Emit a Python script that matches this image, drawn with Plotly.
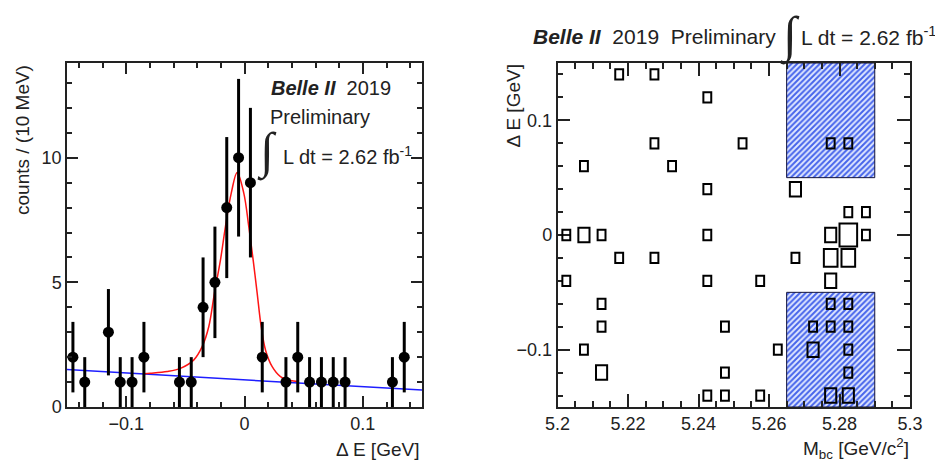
import numpy as np
import plotly.graph_objects as go

# ---------------- data: left panel (Delta E histogram) ----------------
de_bin_centers = [-0.145, -0.135, -0.115, -0.105, -0.095, -0.085, -0.055, -0.045,
                  -0.035, -0.025, -0.015, -0.005, 0.005, 0.015, 0.035, 0.045,
                  0.055, 0.065, 0.075, 0.085, 0.125, 0.135]
de_counts = [2, 1, 3, 1, 1, 2, 1, 1, 4, 5, 8, 10, 9, 2, 1, 2, 1, 1, 1, 1, 1, 2]

# fit curve (total)
fit_x = [-0.085, -0.0795, -0.0653, -0.0541, -0.0428, -0.0358, -0.0302, -0.0254,
         -0.0203, -0.0161, -0.0112, -0.0062, -0.0006, 0.0036, 0.0073, 0.0107,
         0.0141, 0.0178, 0.0234, 0.0304, 0.0389, 0.045]
fit_y = [1.33, 1.35, 1.42, 1.55, 1.89, 2.42, 3.22, 4.57, 5.90, 7.24, 8.58, 9.41,
         8.58, 7.24, 5.90, 4.57, 3.22, 2.28, 1.62, 1.22, 1.06, 1.02]

# background line
bkg_x = [-0.15, 0.15]
bkg_y = [1.50, 0.68]

# ---------------- data: right panel (Mbc vs Delta E boxes) ----------------
box_mbc = [5.2175, 5.2275, 5.2425, 5.2275, 5.2525, 5.2775, 5.2825, 5.2075, 5.2325,
           5.2425, 5.2675, 5.2825, 5.2875, 5.2025, 5.2075, 5.2125, 5.2425, 5.2775,
           5.2825, 5.2875, 5.2175, 5.2275, 5.2675, 5.2775, 5.2825, 5.2025, 5.2425,
           5.2575, 5.2775, 5.2125, 5.2775, 5.2825, 5.2125, 5.2475, 5.2725, 5.2775,
           5.2825, 5.2075, 5.2625, 5.2725, 5.2825, 5.2125, 5.2475, 5.2825, 5.2425,
           5.2475, 5.2575, 5.2775, 5.2825]
box_de = [0.14, 0.14, 0.12, 0.08, 0.08, 0.08, 0.08, 0.06, 0.06,
          0.04, 0.04, 0.02, 0.02, 0.0, 0.0, 0.0, 0.0, 0.0,
          0.0, 0.0, -0.02, -0.02, -0.02, -0.02, -0.02, -0.04, -0.04,
          -0.04, -0.04, -0.06, -0.06, -0.06, -0.08, -0.08, -0.08, -0.08,
          -0.08, -0.10, -0.10, -0.10, -0.10, -0.12, -0.12, -0.12, -0.14,
          -0.14, -0.14, -0.14, -0.14]
box_counts = [1, 1, 1, 1, 1, 1, 1, 1, 1,
              1, 2, 1, 1, 1, 2, 1, 1, 2,
              5, 1, 1, 1, 1, 3, 3, 1, 1,
              1, 2, 1, 1, 1, 1, 1, 1, 1,
              1, 1, 1, 2, 1, 2, 1, 1, 1,
              1, 1, 2, 2]
mbc_bin_width = 0.005
de_bin_width = 0.02

# sideband regions (hatched)
sb_mbc = [5.265, 5.29]
sb_upper_de = [0.05, 0.15]
sb_lower_de = [-0.15, -0.05]

FONT = "Liberation Sans"
W, H = 935, 462

def px(x):
    return x / W

def py(y):
    return 1 - y / H

fig = go.Figure()

# --- left panel ---
fig.add_trace(go.Scatter(x=bkg_x, y=bkg_y, mode="lines",
                         line=dict(color="rgb(30,30,255)", width=1.5),
                         xaxis="x", yaxis="y", showlegend=False, hoverinfo="skip"))
fig.add_trace(go.Scatter(x=fit_x, y=fit_y, mode="lines", line_shape="spline",
                         line=dict(color="rgb(255,20,20)", width=1.5),
                         xaxis="x", yaxis="y", showlegend=False))
fig.add_trace(go.Scatter(x=de_bin_centers, y=de_counts, mode="markers",
                         marker=dict(color="black", size=11, symbol="circle"),
                         error_y=dict(type="data", array=list(np.sqrt(de_counts)),
                                      color="black", thickness=3, width=0),
                         xaxis="x", yaxis="y", showlegend=False))

# --- right panel: hatched sideband regions ---
for lo, hi in (sb_upper_de, sb_lower_de):
    fig.add_trace(go.Scatter(
        x=[sb_mbc[0], sb_mbc[1], sb_mbc[1], sb_mbc[0], sb_mbc[0]],
        y=[lo, lo, hi, hi, lo], mode="lines", fill="toself",
        fillcolor="rgb(70,100,235)",
        fillpattern=dict(shape="/", bgcolor="rgb(70,100,235)", fgcolor="rgb(225,232,255)",
                         size=4, solidity=0.5),
        line=dict(color="rgb(20,20,60)", width=1),
        xaxis="x2", yaxis="y2", showlegend=False, hoverinfo="skip"))

# empty traces to attach the mirror-tick axes
fig.add_trace(go.Scatter(x=[], y=[], xaxis="x3", yaxis="y3", showlegend=False))
fig.add_trace(go.Scatter(x=[], y=[], xaxis="x4", yaxis="y4", showlegend=False))

cmax = max(box_counts)
shapes = []
for m, d, c in zip(box_mbc, box_de, box_counts):
    f = np.sqrt(c / cmax)
    hw = 0.5 * mbc_bin_width * f
    hh = 0.5 * de_bin_width * f
    shapes.append(dict(type="rect", xref="x2", yref="y2",
                       x0=m - hw, x1=m + hw, y0=d - hh, y1=d + hh,
                       line=dict(color="black", width=2), fillcolor="rgba(0,0,0,0)",
                       layer="above"))

TC = "#222"
axis_common = dict(showline=True, linecolor=TC, linewidth=1.5, mirror=True,
                   ticks="inside", tickcolor=TC, tickwidth=1.5, showgrid=False,
                   zeroline=False, automargin=False,
                   tickfont=dict(family=FONT, size=18, color=TC))

def minor(dt, t0, ln):
    return dict(dtick=dt, tick0=t0, ticklen=ln, ticks="inside", tickcolor=TC,
                tickwidth=1.5, showgrid=False)

mirror_common = dict(showline=False, ticks="inside", tickcolor=TC, tickwidth=1.5,
                     showgrid=False, zeroline=False, automargin=False,
                     showticklabels=False)

xl_dom = [px(67), px(422)]
xr_dom = [px(557.5), px(910)]
y_dom = [py(407), py(63)]

fig.update_layout(
    template="none",
    width=W, height=H, margin=dict(l=0, r=0, t=0, b=0, autoexpand=False),
    paper_bgcolor="white", plot_bgcolor="rgba(0,0,0,0)",
    xaxis=dict(domain=xl_dom, range=[-0.15, 0.15], tick0=0, dtick=0.1,
               ticklen=11, minor=minor(0.02, 0, 5), anchor="y", **axis_common),
    yaxis=dict(domain=y_dom, range=[0, 13.8], tick0=0, dtick=5,
               ticklen=11, minor=minor(1, 0, 5), anchor="x", **axis_common),
    xaxis2=dict(domain=xr_dom, range=[5.2, 5.3], tick0=5.2, dtick=0.02,
                ticklen=13, minor=minor(0.005, 5.2, 6), anchor="y2", **axis_common),
    yaxis2=dict(domain=y_dom, range=[-0.15, 0.15], tick0=0, dtick=0.1,
                ticklen=13, minor=minor(0.02, 0, 6), anchor="x2", **axis_common),
    # mirror ticks (top and right sides)
    xaxis3=dict(domain=xl_dom, range=[-0.15, 0.15], tick0=0, dtick=0.1, ticklen=11,
                minor=minor(0.02, 0, 5), side="top", anchor="y3", **mirror_common),
    yaxis3=dict(domain=y_dom, range=[0, 13.8], tick0=0, dtick=5, ticklen=11,
                minor=minor(1, 0, 5), side="right", anchor="x3", **mirror_common),
    xaxis4=dict(domain=xr_dom, range=[5.2, 5.3], tick0=5.2, dtick=0.02, ticklen=13,
                minor=minor(0.005, 5.2, 6), side="top", anchor="y4", **mirror_common),
    yaxis4=dict(domain=y_dom, range=[-0.15, 0.15], tick0=0, dtick=0.1, ticklen=13,
                minor=minor(0.02, 0, 6), side="right", anchor="x4", **mirror_common),
    shapes=shapes,
)

ann = []
def add_text(text, x, y, size, xanchor="left", yanchor="middle", angle=0, family=FONT):
    ann.append(dict(text=text, x=px(x), y=py(y), xref="paper", yref="paper",
                    xanchor=xanchor, yanchor=yanchor, showarrow=False, textangle=angle,
                    font=dict(family=family, size=size, color=TC)))

# left panel texts
add_text("<b><i>Belle II</i></b>  2019", 269, 88, 20)
add_text("Preliminary", 268, 117, 20)
add_text("∫", 267, 152, 50, xanchor="center", family="Liberation Serif")
add_text("L dt = 2.62 fb<sup>-1</sup>", 281, 155, 20)
# right panel header
add_text("<b><i>Belle II</i></b>  2019  Preliminary", 531, 36, 21)
add_text("∫", 790, 35, 50, xanchor="center", family="Liberation Serif")
add_text("L dt = 2.62 fb<sup>-1</sup>", 799, 36, 21)
# axis titles
add_text("Δ E [GeV]", 421, 449, 19, xanchor="right")
add_text("M<sub>bc</sub> [GeV/c<sup>2</sup>]", 911, 448, 19, xanchor="right")
add_text("counts / (10 MeV)", 22, 63, 19, xanchor="center", yanchor="top", angle=-90)
add_text("Δ E [GeV]", 513, 63, 19, xanchor="center", yanchor="top", angle=-90)

fig.update_layout(annotations=ann)

fig.write_html("out.html")
